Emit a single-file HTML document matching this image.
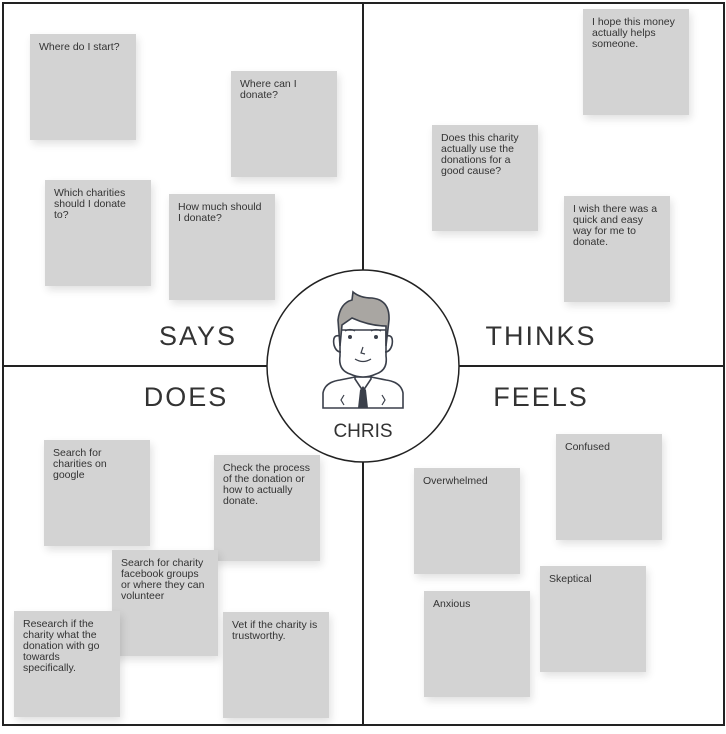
<!DOCTYPE html>
<html><head><meta charset="utf-8"><style>
body{margin:0;width:726px;height:734px;background:#fff;position:relative;overflow:hidden;font-family:"Liberation Sans",sans-serif}
.n{position:absolute;width:106px;height:106px;background:#d3d3d3;box-shadow:2px 4px 8px rgba(0,0,0,0.12);box-sizing:border-box;padding:8px 9px;font-size:10.5px;line-height:11px;color:#333}
.l{position:absolute;font-size:27px;color:#333;font-weight:normal;letter-spacing:2px;transform:translateX(-50%)}
</style></head><body>
<div style="position:absolute;left:2px;top:2px;width:719px;height:720px;border:2px solid #222"></div>
<div style="position:absolute;left:362px;top:2px;width:2px;height:724px;background:#222"></div>
<div style="position:absolute;left:2px;top:365px;width:722px;height:2px;background:#222"></div>

<div class="n" style="left:30px;top:34px">Where do I start?</div>
<div class="n" style="left:231px;top:71px">Where can I donate?</div>
<div class="n" style="left:45px;top:180px">Which charities should I donate to?</div>
<div class="n" style="left:169px;top:194px">How much should I donate?</div>
<div class="n" style="left:583px;top:9px">I hope this money actually helps someone.</div>
<div class="n" style="left:432px;top:125px">Does this charity actually use the donations for a good cause?</div>
<div class="n" style="left:564px;top:196px">I wish there was a quick and easy way for me to donate.</div>

<div class="n" style="left:44px;top:440px">Search for charities on google</div>
<div class="n" style="left:214px;top:455px">Check the process of the donation or how to actually donate.</div>
<div class="n" style="left:112px;top:550px">Search for charity facebook groups or where they can volunteer</div>
<div class="n" style="left:14px;top:611px">Research if the charity what the donation with go towards specifically.</div>
<div class="n" style="left:223px;top:612px">Vet if the charity is trustworthy.</div>
<div class="n" style="left:414px;top:468px">Overwhelmed</div>
<div class="n" style="left:556px;top:434px">Confused</div>
<div class="n" style="left:540px;top:566px">Skeptical</div>
<div class="n" style="left:424px;top:591px">Anxious</div>

<div class="l" style="left:198px;top:321px">SAYS</div>
<div class="l" style="left:541px;top:321px">THINKS</div>
<div class="l" style="left:186px;top:382px">DOES</div>
<div class="l" style="left:541px;top:382px">FEELS</div>

<svg style="position:absolute;left:0;top:0" width="726" height="734">
<circle cx="363" cy="366" r="96" fill="#fff" stroke="#222" stroke-width="1.5"/>
<g stroke="#3a3f4a" stroke-width="1.6" fill="none">
<path d="M323,408 L323,393 Q325,382 340,380 L355,377 L371,377 L386,380 Q401,382 403,393 L403,408 Z" fill="#fff"/>
<path d="M355,366 L355,379 L363,391 L371,379 L371,366"/>
<path d="M340,356 Q338,370 350,374 Q363,380 376,374 Q388,370 386,356 L386,330 L340,330 Z" fill="#fff"/>
<path d="M340,336 Q332,334 334,345 Q336,352 341,352 M386,336 Q394,334 392,345 Q390,352 385,352"/>
<path d="M340,346 L338,320 Q340,303 352,300 L353,292 Q360,298 372,298 Q390,300 389,320 L386,346 L386,326 Q370,326 352,318 L342,325 Z" fill="#a9a6a2"/>
<path d="M345,331 Q350,328 355,331 M371,331 Q376,328 381,331" stroke-width="1.2"/>
<path d="M363,347 L361,353 L365,354" stroke-width="1.2"/>
<path d="M355,359 Q363,364 371,359" stroke-width="1.3"/>
<path d="M344,395 L341,400 L344,405 M382,395 L385,400 L382,405" stroke-width="1.2"/>
</g>
<circle cx="350" cy="337" r="2" fill="#3a3f4a"/><circle cx="376" cy="337" r="2" fill="#3a3f4a"/>
<path d="M360,390 L363,386 L366,390 L368,408 L358,408 Z" fill="#3a3f4a"/>
<text x="363" y="437" text-anchor="middle" font-family="Liberation Sans, sans-serif" font-size="19" fill="#333">CHRIS</text>
</svg>
</body></html>
